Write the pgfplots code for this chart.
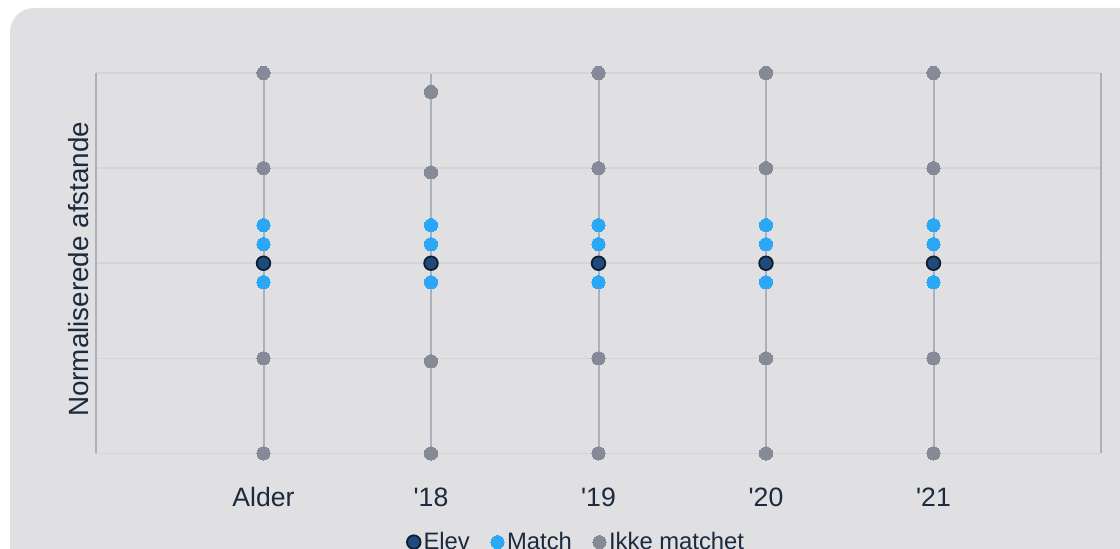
\documentclass[border=0pt]{standalone}
\usepackage{pgfplots}
\pgfplotsset{compat=1.18}
\usepackage{fontspec}
\setmainfont{Liberation Sans}
\definecolor{bg}{HTML}{E0E0E3}
\definecolor{gridc}{HTML}{D3D4D8}
\definecolor{vline}{HTML}{A9B1BB}
\definecolor{axc}{HTML}{B5BDC5}
\definecolor{txt}{HTML}{1B2A3C}
\definecolor{elev}{HTML}{1F4A7C}
\definecolor{elevd}{HTML}{0F1E30}
\definecolor{match}{HTML}{2BA8F5}
\definecolor{ikke}{HTML}{868A96}
\begin{document}
\begin{tikzpicture}
\useasboundingbox (0,0) rectangle (560pt,274.5pt);
\clip (0,0) rectangle (560pt,274.5pt);
\fill[bg, rounded corners=12pt] (5pt,-30pt) rectangle (600pt,270.5pt);
\begin{axis}[
  at={(48pt,47.75pt)}, anchor=south west,
  scale only axis, width=502.5pt, height=190.25pt,
  xmin=-1, xmax=5, ymin=-2, ymax=2,
  clip=false,
  axis line style={draw=none},
  xtick={0,...,4},
  xticklabels={Alder,{\textquotesingle{}18},{\textquotesingle{}19},{\textquotesingle{}20},{\textquotesingle{}21}},
  ytick={-2,...,2}, yticklabels={},
  major tick length=0pt,
  xmajorgrids, ymajorgrids,
  x grid style={vline, line width=1pt},
  y grid style={gridc, line width=0.75pt},
  extra x ticks={-1,5}, extra x tick labels={},
  extra x tick style={grid style={axc, line width=1pt}},
  xticklabel style={font=\fontsize{13.3}{16}\selectfont, text=txt, anchor=base, yshift=-26.5pt},
  ylabel={Normaliserede afstande},
  every axis y label/.style={at={(axis description cs:0,0.5)}, rotate=90, anchor=base, yshift=4pt, xshift=-3pt, font=\fontsize{13.9}{16}\selectfont, text=txt},
  legend style={at={(axis description cs:0.4786,-0.233)}, anchor=center, draw=none, fill=none,
    font=\fontsize{11.9}{14}\selectfont, text=txt, nodes={inner xsep=1.5pt},
    /tikz/every even column/.append style={column sep=9pt}},
  legend columns=-1,
  legend image code/.code={\draw[mark repeat=2,mark phase=2,#1] plot coordinates {(0pt,0pt)(3.5pt,0pt)(7pt,0pt)};},
]
\addlegendimage{only marks, mark=*, mark size=3.4pt, color=elevd, mark options={fill=elev, draw=elevd, line width=0.9pt}}
\addlegendentry{Elev}
\addlegendimage{only marks, mark=*, mark size=3.3pt, color=match, mark options={fill=match, draw=match, line width=0pt}}
\addlegendentry{Match}
\addlegendimage{only marks, mark=*, mark size=3.3pt, color=ikke, mark options={fill=ikke, draw=ikke, line width=0pt}}
\addlegendentry{Ikke matchet}

\addplot[forget plot, only marks, mark=*, mark size=3.3pt, color=ikke, mark options={fill=ikke, draw=ikke, line width=0pt}] coordinates {
 (0,2) (0,1) (0,-1) (0,-2)
 (1,1.8) (1,0.955) (1,-1.03) (1,-2)
 (2,2) (2,1) (2,-1) (2,-2)
 (3,2) (3,1) (3,-1) (3,-2)
 (4,2) (4,1) (4,-1) (4,-2)
};
\addplot[forget plot, only marks, mark=*, mark size=3.3pt, color=match, mark options={fill=match, draw=match, line width=0pt}] coordinates {
 (0,0.4) (0,0.2) (0,-0.2)
 (1,0.4) (1,0.2) (1,-0.2)
 (2,0.4) (2,0.2) (2,-0.2)
 (3,0.4) (3,0.2) (3,-0.2)
 (4,0.4) (4,0.2) (4,-0.2)
};
\addplot[forget plot, only marks, mark=*, mark size=3.4pt, color=elevd, mark options={fill=elev, draw=elevd, line width=0.9pt}] coordinates {
 (0,0) (1,0) (2,0) (3,0) (4,0)
};
\end{axis}
\end{tikzpicture}
\end{document}
